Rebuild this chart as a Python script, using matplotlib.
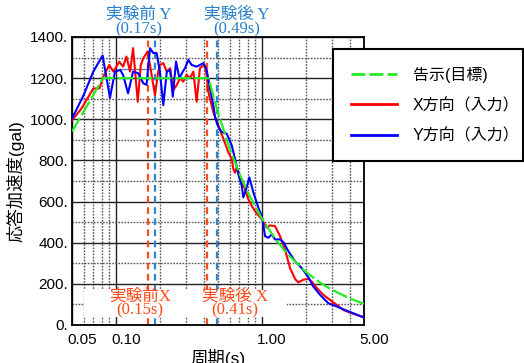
import matplotlib
matplotlib.use("Agg")
import matplotlib.pyplot as plt
from matplotlib.lines import Line2D
from matplotlib.patches import Rectangle
from matplotlib.ticker import FixedLocator, FixedFormatter, FuncFormatter
import matplotlib.transforms as mtransforms

plt.rcParams['font.family'] = ['Liberation Sans', 'Noto Sans CJK JP', 'DejaVu Sans']

# ---------------- data ----------------
target_T = [0.05, 0.0815, 0.43, 0.5, 0.6, 0.7, 0.8, 1.0, 1.25, 1.5, 2.0, 2.5, 3.0, 4.0, 5.0]
target_A = [940, 1200, 1200, 1032, 860, 737, 645, 516, 413, 344, 258, 206, 172, 129, 103]

x_T = [0.05, 0.058, 0.070, 0.077, 0.082, 0.090, 0.096, 0.1054, 0.112, 0.118, 0.125, 0.131,
       0.141, 0.148, 0.154, 0.165, 0.171, 0.185, 0.195, 0.200, 0.211, 0.223, 0.235, 0.247,
       0.261, 0.275, 0.289, 0.305, 0.321, 0.339, 0.357, 0.376, 0.387, 0.405, 0.418, 0.429,
       0.464, 0.502, 0.544, 0.588, 0.621, 0.636, 0.654, 0.672, 0.707, 0.766, 0.806, 0.851,
       0.920, 0.996, 1.078, 1.135, 1.229, 1.329, 1.439, 1.557, 1.685, 1.774, 1.919, 2.077,
       2.191, 2.371, 2.631, 2.925, 3.251, 3.607, 4.009, 4.456, 5.0]
x_A = [995, 1052, 1150, 1150, 1207, 1264, 1232, 1280, 1256, 1305, 1232, 1346,
       1085, 1264, 1297, 1330, 1264, 1117, 1232, 1264, 1273, 1232, 1248, 1142,
       1167, 1200, 1183, 1216, 1200, 1232, 1085, 1248, 1256, 1262, 1215, 1134,
       1036, 971, 906, 840, 808, 759, 740, 767, 710, 661, 612, 579,
       542, 514, 473, 484, 481, 432, 367, 277, 224, 207, 220, 224,
       212, 180, 147, 122, 98, 73, 60, 49, 38]

y_T = [0.05, 0.060, 0.070, 0.081, 0.091, 0.0985, 0.107, 0.112, 0.121, 0.131, 0.142, 0.154,
       0.162, 0.171, 0.180, 0.190, 0.200, 0.211, 0.223, 0.235, 0.245, 0.258, 0.272, 0.287,
       0.297, 0.313, 0.330, 0.357, 0.376, 0.397, 0.418, 0.441, 0.464, 0.477, 0.502, 0.530,
       0.574, 0.621, 0.654, 0.689, 0.727, 0.745, 0.786, 0.819, 0.873, 0.944, 0.996, 1.012,
       1.050, 1.106, 1.166, 1.229, 1.329, 1.401, 1.516, 1.685, 1.872, 2.077, 2.247, 2.498,
       2.848, 3.251, 3.705, 4.224, 5.0]
y_A = [1003, 1117, 1232, 1310, 1105, 1232, 1240, 1215, 1126, 1232, 1224, 1175,
       1167, 1346, 1322, 1322, 1232, 1069, 1232, 1240, 1110, 1281, 1200, 1232,
       1248, 1289, 1264, 1256, 1264, 1273, 1240, 1150, 1069, 1012, 963, 938,
       930, 873, 808, 734, 677, 620, 669, 718, 645, 571, 530, 506,
       432, 424, 440, 416, 416, 403, 359, 310, 277, 233, 187, 147,
       106, 90, 73, 57, 36]

marker_line_T = [0.107, 0.178]
marker_line_A = [1243, 1243]

vline_x = [0.167, 0.42]    # red dashed (X before / after)
vline_y = [0.185, 0.492]   # blue dashed (Y before / after)

xticks = [0.05, 0.1, 1.0, 5.0]
xticklabels = ['0.05', '0.10', '1.00', '5.00']
xminor = [0.06, 0.07, 0.08, 0.09, 0.2, 0.3, 0.4, 0.5, 0.6, 0.7, 0.8, 0.9, 2.0, 3.0, 4.0]
yticks = [0, 200, 400, 600, 800, 1000, 1200, 1400]
yminor = [100, 300, 500, 700, 900, 1100, 1300]

legend_labels = ['告示(目標)', 'X方向（入力）', 'Y方向（入力）']

# ---------------- figure ----------------
W, H = 524, 363
fig = plt.figure(figsize=(W / 100, H / 100), dpi=100)
ax = fig.add_axes([72 / W, 1 - 325 / H, 292 / W, 288 / H])

ax.set_xscale('log')
ax.set_xlim(0.05, 5.0)
ax.set_ylim(0, 1400)

ax.xaxis.set_major_locator(FixedLocator(xticks))
ax.xaxis.set_major_formatter(FixedFormatter(xticklabels))
ax.xaxis.set_minor_locator(FixedLocator(xminor))
ax.xaxis.set_minor_formatter(FixedFormatter([''] * len(xminor)))
ax.yaxis.set_major_locator(FixedLocator(yticks))
ax.yaxis.set_major_formatter(FuncFormatter(lambda v, p: '%d.' % v))
ax.yaxis.set_minor_locator(FixedLocator(yminor))

ax.tick_params(which='both', length=0)
ax.tick_params(axis='both', which='major', labelsize=11, colors='black')
ax.tick_params(axis='y', pad=3)
ax.tick_params(axis='x', pad=6)
off = mtransforms.ScaledTranslation(10 / 100, 0, fig.dpi_scale_trans)
for lab in ax.get_xticklabels():
    lab.set_transform(lab.get_transform() + off)

ax.set_axisbelow(True)
ax.grid(which='major', axis='both', color='#222222', linewidth=1.0, linestyle='-')
ax.grid(which='minor', axis='both', color='#555555', linewidth=1.0, linestyle=(0, (1.2, 1.0)))

for s in ax.spines.values():
    s.set_color('black')
    s.set_linewidth(1.3)

# vertical dashed lines
for v in vline_x:
    ax.axvline(v, color='#ff4a1a', linewidth=1.6, linestyle=(0, (3, 2)), zorder=2)
for v in vline_y:
    ax.axvline(v, color='#2a86d0', linewidth=1.6, linestyle=(0, (3, 2)), zorder=2)

# white label box at the bottom
ax.add_patch(Rectangle((12 / 292, 8 / 288), 203 / 292, 27 / 288, transform=ax.transAxes,
                       facecolor='white', edgecolor='none', zorder=5))

# data
ax.plot(marker_line_T, marker_line_A, color='#5a7aa8', linewidth=0.9, zorder=3)
ax.plot(x_T, x_A, color='#ff0000', linewidth=1.5, zorder=3)
ax.plot(y_T, y_A, color='#0000ff', linewidth=1.5, zorder=3)
ax.plot(target_T, target_A, color='#22ee22', linewidth=1.6, linestyle=(0, (7, 1.6)), zorder=4)

# labels
ax.set_ylabel('応答加速度(gal)', fontsize=12.5, labelpad=4)
ax.set_xlabel('周期(s)', fontsize=12.5, labelpad=1)

lab_font = ['Liberation Serif', 'Noto Sans CJK JP']
trans = mtransforms.blended_transform_factory(ax.transData, ax.transAxes)
blue_c = '#2a80c8'
red_c = '#ff4a1a'
ax.text(0.144, 1.076, '実験前 Y', color=blue_c, family=lab_font, fontsize=12,
        ha='center', va='center', transform=trans, clip_on=False)
ax.text(0.144, 1.028, '(0.17s)', color=blue_c, family=lab_font, fontsize=12,
        ha='center', va='center', transform=trans, clip_on=False)
ax.text(0.675, 1.076, '実験後 Y', color=blue_c, family=lab_font, fontsize=12,
        ha='center', va='center', transform=trans, clip_on=False)
ax.text(0.675, 1.028, '(0.49s)', color=blue_c, family=lab_font, fontsize=12,
        ha='center', va='center', transform=trans, clip_on=False)
ax.text(0.146, 0.097, '実験前X', color=red_c, family=lab_font, fontsize=12,
        ha='center', va='center', transform=trans, zorder=6)
ax.text(0.146, 0.052, '(0.15s)', color=red_c, family=lab_font, fontsize=12,
        ha='center', va='center', transform=trans, zorder=6)
ax.text(0.655, 0.097, '実験後 X', color=red_c, family=lab_font, fontsize=12,
        ha='center', va='center', transform=trans, zorder=6)
ax.text(0.655, 0.052, '(0.41s)', color=red_c, family=lab_font, fontsize=12,
        ha='center', va='center', transform=trans, zorder=6)

# legend
handles = [Line2D([], [], color='#22ee22', linewidth=2, linestyle=(0, (5, 1.5))),
           Line2D([], [], color='#ff0000', linewidth=2),
           Line2D([], [], color='#0000ff', linewidth=2)]
leg = fig.legend(handles, legend_labels, loc='upper left',
                 bbox_to_anchor=(333 / W, 0.3, 190 / W, 1 - 49 / H - 0.3), mode='expand',
                 borderaxespad=0, fontsize=11.5, frameon=True, fancybox=False,
                 edgecolor='black', framealpha=1, handlelength=2.9, handletextpad=1.0,
                 borderpad=1.1, labelspacing=0.95)
leg.get_frame().set_linewidth(1.5)

fig.savefig('out.png', dpi=100)
